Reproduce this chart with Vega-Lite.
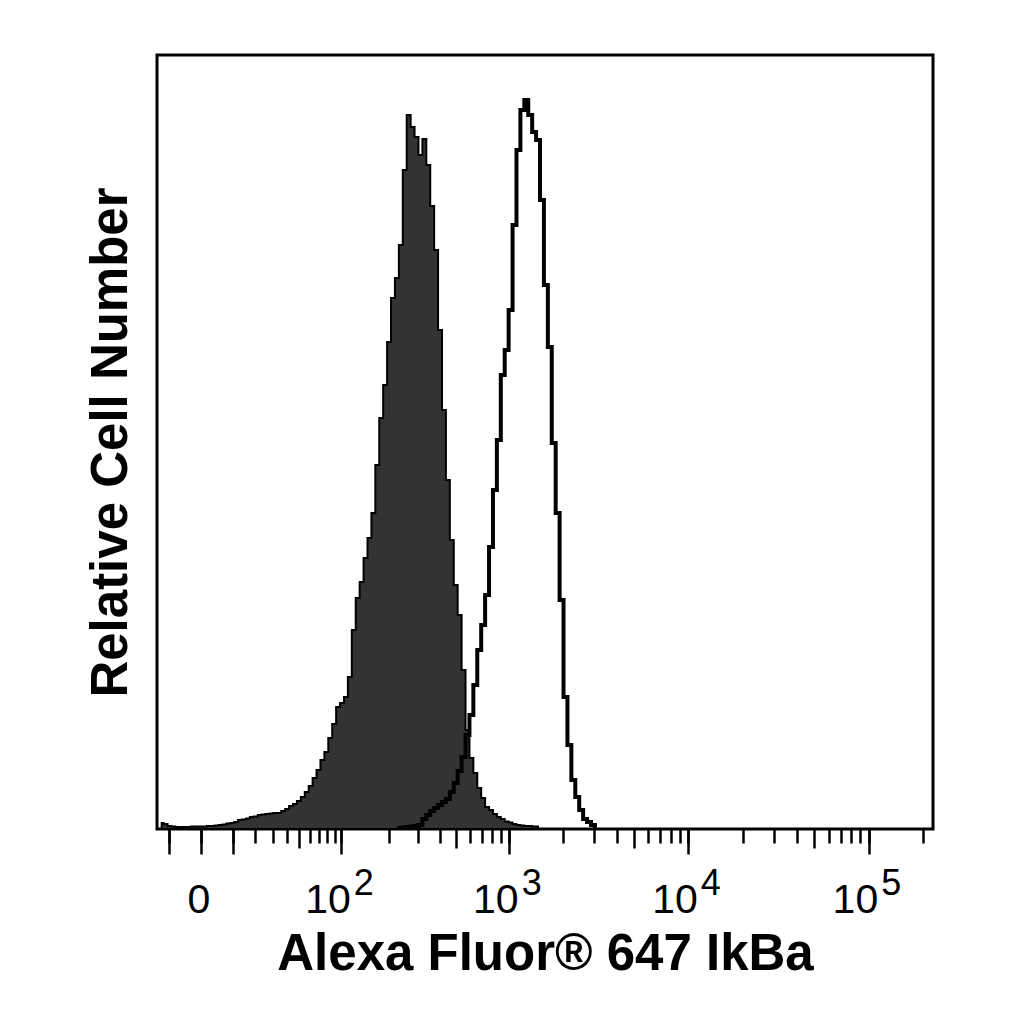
{
  "$schema": "https://vega.github.io/schema/vega-lite/v6.json",
  "width": 776,
  "height": 774,
  "autosize": {"type": "none"},
  "padding": {"left": 157, "top": 55, "right": 91, "bottom": 195},
  "background": "white",
  "config": {"view": {"stroke": "black", "strokeWidth": 3}, "font": "Liberation Sans"},
  "data": {"values": [
    {"x": -12.97, "filled": 0.78, "open": null},
    {"x": -11.37, "filled": 0.65, "open": null},
    {"x": -9.84, "filled": 0.39, "open": null},
    {"x": -8.38, "filled": 0.32, "open": null},
    {"x": -7.0, "filled": 0.26, "open": null},
    {"x": -5.68, "filled": 0.26, "open": null},
    {"x": -4.43, "filled": 0.26, "open": null},
    {"x": -3.24, "filled": 0.26, "open": null},
    {"x": -2.1, "filled": 0.32, "open": null},
    {"x": -1.03, "filled": 0.32, "open": null},
    {"x": 0, "filled": 0.32, "open": null},
    {"x": 1.03, "filled": 0.32, "open": null},
    {"x": 2.1, "filled": 0.39, "open": null},
    {"x": 3.24, "filled": 0.39, "open": null},
    {"x": 4.43, "filled": 0.45, "open": null},
    {"x": 5.68, "filled": 0.52, "open": null},
    {"x": 7.0, "filled": 0.58, "open": null},
    {"x": 8.38, "filled": 0.71, "open": null},
    {"x": 9.84, "filled": 0.78, "open": null},
    {"x": 11.37, "filled": 0.9, "open": null},
    {"x": 12.97, "filled": 1.16, "open": null},
    {"x": 14.67, "filled": 1.23, "open": null},
    {"x": 16.44, "filled": 1.36, "open": null},
    {"x": 18.31, "filled": 1.55, "open": null},
    {"x": 20.28, "filled": 1.61, "open": null},
    {"x": 22.34, "filled": 1.81, "open": null},
    {"x": 24.51, "filled": 1.87, "open": null},
    {"x": 26.79, "filled": 1.94, "open": null},
    {"x": 29.19, "filled": 2.0, "open": null},
    {"x": 31.71, "filled": 2.07, "open": null},
    {"x": 34.37, "filled": 2.07, "open": null},
    {"x": 37.15, "filled": 2.33, "open": null},
    {"x": 40.08, "filled": 2.58, "open": null},
    {"x": 43.16, "filled": 2.97, "open": null},
    {"x": 46.4, "filled": 3.23, "open": null},
    {"x": 49.81, "filled": 3.62, "open": null},
    {"x": 53.39, "filled": 4.13, "open": null},
    {"x": 57.15, "filled": 4.78, "open": null},
    {"x": 61.1, "filled": 5.56, "open": null},
    {"x": 65.26, "filled": 6.59, "open": null},
    {"x": 69.63, "filled": 7.62, "open": null},
    {"x": 74.23, "filled": 8.91, "open": null},
    {"x": 79.06, "filled": 9.95, "open": null},
    {"x": 84.14, "filled": 11.76, "open": null},
    {"x": 89.48, "filled": 13.57, "open": null},
    {"x": 95.09, "filled": 15.76, "open": null},
    {"x": 100.99, "filled": 16.28, "open": null},
    {"x": 107.2, "filled": 17.05, "open": null},
    {"x": 113.72, "filled": 19.64, "open": null},
    {"x": 120.57, "filled": 25.71, "open": null},
    {"x": 127.78, "filled": 29.84, "open": null},
    {"x": 135.36, "filled": 31.91, "open": null},
    {"x": 143.32, "filled": 35.01, "open": null},
    {"x": 151.7, "filled": 37.6, "open": null},
    {"x": 160.5, "filled": 40.83, "open": null},
    {"x": 169.75, "filled": 47.03, "open": null},
    {"x": 179.48, "filled": 53.1, "open": null},
    {"x": 189.71, "filled": 57.36, "open": null},
    {"x": 200.46, "filled": 62.92, "open": null},
    {"x": 211.77, "filled": 68.6, "open": null},
    {"x": 223.65, "filled": 71.19, "open": 0.13},
    {"x": 236.14, "filled": 75.45, "open": 0.13},
    {"x": 249.27, "filled": 85.14, "open": 0.19},
    {"x": 263.08, "filled": 92.25, "open": 0.26},
    {"x": 277.59, "filled": 90.7, "open": 0.32},
    {"x": 292.85, "filled": 89.41, "open": 0.39},
    {"x": 308.89, "filled": 87.08, "open": 0.52},
    {"x": 325.76, "filled": 89.15, "open": 1.29},
    {"x": 343.48, "filled": 85.79, "open": 1.81},
    {"x": 362.12, "filled": 80.49, "open": 2.33},
    {"x": 381.71, "filled": 74.81, "open": 2.71},
    {"x": 402.31, "filled": 64.47, "open": 3.1},
    {"x": 423.96, "filled": 54.13, "open": 3.49},
    {"x": 446.72, "filled": 45.09, "open": 3.88},
    {"x": 470.65, "filled": 37.34, "open": 4.78},
    {"x": 495.81, "filled": 31.52, "open": 5.94},
    {"x": 522.25, "filled": 27.65, "open": 7.49},
    {"x": 550.05, "filled": 20.54, "open": 9.3},
    {"x": 579.28, "filled": 12.79, "open": 12.14},
    {"x": 610.01, "filled": 9.17, "open": 14.73},
    {"x": 642.31, "filled": 7.24, "open": 18.6},
    {"x": 676.27, "filled": 5.3, "open": 23.13},
    {"x": 711.96, "filled": 4.01, "open": 26.36},
    {"x": 749.49, "filled": 2.84, "open": 30.23},
    {"x": 788.95, "filled": 2.45, "open": 36.43},
    {"x": 830.42, "filled": 1.94, "open": 43.8},
    {"x": 874.02, "filled": 1.55, "open": 50.26},
    {"x": 919.86, "filled": 1.29, "open": 58.66},
    {"x": 968.05, "filled": 0.97, "open": 61.89},
    {"x": 1018.71, "filled": 0.84, "open": 67.05},
    {"x": 1071.96, "filled": 0.65, "open": 78.04},
    {"x": 1127.95, "filled": 0.52, "open": 87.73},
    {"x": 1186.8, "filled": 0.45, "open": 92.89},
    {"x": 1248.68, "filled": 0.39, "open": 94.19},
    {"x": 1313.72, "filled": 0.39, "open": 92.25},
    {"x": 1382.11, "filled": 0.32, "open": 90.05},
    {"x": 1453.99, "filled": 0.32, "open": 89.02},
    {"x": 1529.57, "filled": null, "open": 81.27},
    {"x": 1609.01, "filled": null, "open": 70.28},
    {"x": 1692.54, "filled": null, "open": 62.27},
    {"x": 1780.34, "filled": null, "open": 49.87},
    {"x": 1872.65, "filled": null, "open": 40.83},
    {"x": 1969.68, "filled": null, "open": 29.59},
    {"x": 2071.69, "filled": null, "open": 17.05},
    {"x": 2178.94, "filled": null, "open": 10.85},
    {"x": 2291.68, "filled": null, "open": 6.33},
    {"x": 2410.2, "filled": null, "open": 4.13},
    {"x": 2534.8, "filled": null, "open": 2.45},
    {"x": 2665.78, "filled": null, "open": 1.29},
    {"x": 2803.49, "filled": null, "open": 0.9},
    {"x": 2948.26, "filled": null, "open": 0.52},
    {"x": 3100.44, "filled": null, "open": 0.26}
  ]},
  "resolve": {"axis": {"x": "independent"}},
  "layer": [
    {
      "transform": [{"filter": "datum.filled != null"}],
      "mark": {"type": "area", "interpolate": "step", "fill": "#333333", "stroke": "black", "strokeWidth": 2},
      "encoding": {
        "x": {
          "field": "x", "type": "quantitative",
          "scale": {"type": "symlog", "constant": 20, "domain": [-15, 227000], "nice": false, "zero": false},
          "axis": {
            "orient": "bottom",
            "title": "Alexa Fluor® 647 IkBa",
            "titleFont": "Liberation Sans", "titleFontSize": 51, "titleFontWeight": "bold", "titleColor": "black",
            "titlePadding": 4,
            "values": [-10, 0, 10, 20, 30, 40, 50, 60, 70, 80, 90, 100, 200, 300, 400, 500, 600, 700, 800, 900, 1000, 2000, 3000, 4000, 5000, 6000, 7000, 8000, 9000, 10000, 20000, 30000, 40000, 50000, 60000, 70000, 80000, 90000, 100000, 200000],
            "tickCount": 1000,
            "labelExpr": "datum.value == 0 ? '0' : (datum.value == 100 || datum.value == 1000 || datum.value == 10000 || datum.value == 100000) ? '10' : ''",
            "labelFont": "Liberation Sans", "labelFontSize": 41, "labelColor": "black",
            "labelAlign": "right", "labelOffset": 9, "labelBaseline": "alphabetic",
            "labelPadding": 69, "labelOverlap": false, "labelFlush": false, "labelBound": false,
            "domain": false, "grid": false,
            "tickColor": "black", "tickWidth": 2.5,
            "tickSize": {"condition": {"test": "indexof([50, 500, 5000, 50000], datum.value) >= 0", "value": 19}, "value": 14}
          }
        },
        "y": {
          "field": "filled", "type": "quantitative",
          "scale": {"domain": [0, 100], "nice": false},
          "axis": {
            "title": "Relative Cell Number",
            "titleFont": "Liberation Sans", "titleFontSize": 51, "titleFontWeight": "bold", "titleColor": "black",
            "titlePadding": 20,
            "labels": false, "ticks": false, "domain": false, "grid": false
          }
        }
      }
    },
    {
      "transform": [{"filter": "datum.open != null"}],
      "mark": {"type": "line", "interpolate": "step", "stroke": "black", "strokeWidth": 4},
      "encoding": {
        "x": {
          "field": "x", "type": "quantitative",
          "axis": {
            "orient": "bottom",
            "title": null,
            "values": [-10, 0, 10, 100, 1000, 10000, 100000],
            "tickCount": 1000,
            "labelExpr": "datum.value == 100 ? '2' : datum.value == 1000 ? '3' : datum.value == 10000 ? '4' : datum.value == 100000 ? '5' : ''",
            "labelFont": "Liberation Sans", "labelFontSize": 36, "labelColor": "black",
            "labelAlign": "left", "labelOffset": 12, "labelBaseline": "alphabetic",
            "labelPadding": 40, "labelOverlap": false, "labelFlush": false, "labelBound": false,
            "domain": false, "grid": false,
            "tickColor": "black", "tickWidth": 2.5, "tickSize": 25
          }
        },
        "y": {"field": "open", "type": "quantitative"}
      }
    }
  ]
}
